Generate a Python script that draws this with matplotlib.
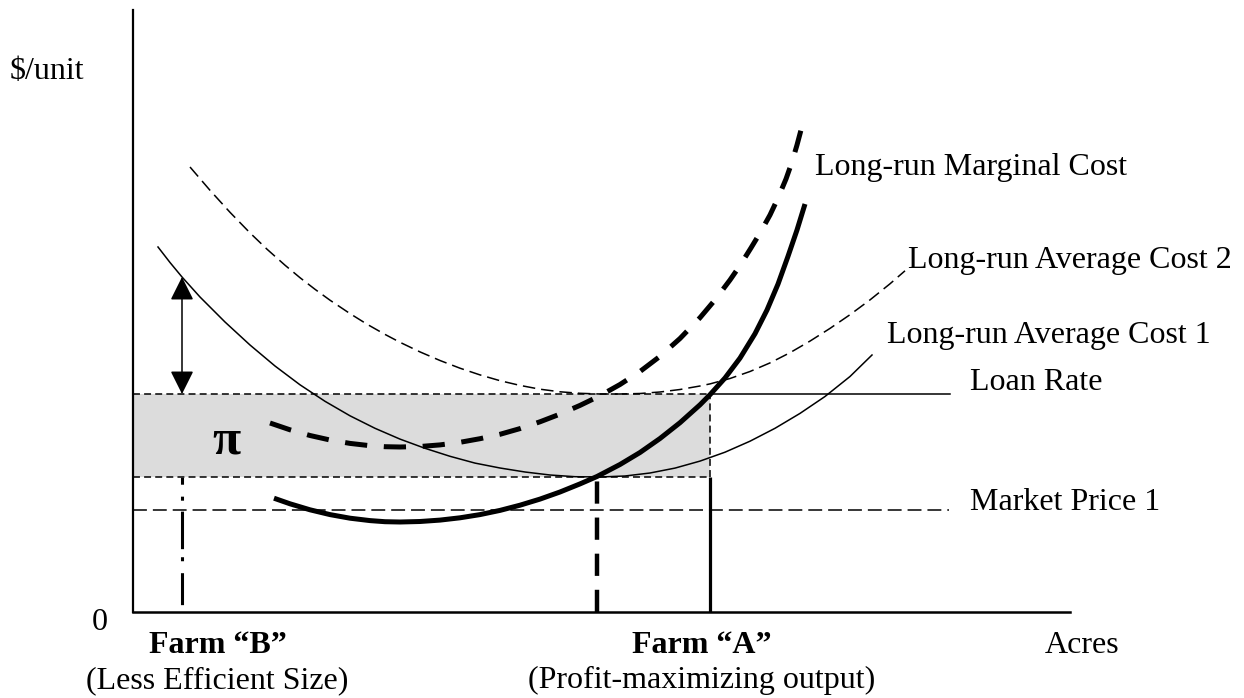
import matplotlib
matplotlib.use("Agg")
import matplotlib.pyplot as plt

plt.rcParams['lines.scale_dashes'] = False
plt.rcParams['font.family'] = ['Liberation Serif', 'DejaVu Serif']

# ---- data (arbitrary units: acres on x, $/unit on y) ----
lrac1_x = [25, 37, 49, 67, 92, 117, 142, 167, 192, 217, 242, 267, 292, 317, 342, 367,
           392, 417, 442, 467, 492, 517, 542, 567, 592, 617, 642, 667, 692, 717, 739]
lrac1_y = [365, 349.5, 335, 315, 290, 267, 246, 227.2, 210.7, 196.2, 183.7, 172.9, 163.7,
           155.7, 148.9, 144, 140, 137, 135.3, 135, 136, 139, 143.9, 150.9, 159.8, 170.8,
           183.7, 198.6, 215.5, 235.5, 257]

lrac2_x = [57, 77, 97, 117, 134, 152, 167, 182, 197, 217, 234, 252, 267, 287, 307, 327,
           347, 367, 387, 407, 427, 447, 467, 487, 507, 527, 547, 567, 577, 597, 617, 637,
           657, 677, 697, 717, 737, 757, 772]
lrac2_y = [445, 421.7, 399.7, 379.1, 362.8, 346.8, 334.3, 322.7, 311.8, 298.4, 287.8,
           277.6, 269.7, 260.1, 251.5, 243.8, 237.1, 231.3, 226.6, 222.8, 220.2, 218.7,
           218, 218, 218.5, 220, 222.5, 226, 228.1, 233.5, 240.5, 249.1, 259.3, 270.9,
           283.6, 297.3, 312.1, 328.2, 341.2]

lrmc_x = [141, 157, 177, 197, 217, 237, 252, 267, 287, 307, 327, 347, 367, 387, 407, 427,
          447, 464, 487, 507, 527, 547, 567, 577, 592, 607, 622, 634, 645, 655, 664, 672]
lrmc_y = [113.8, 108.2, 102.2, 97.4, 93.8, 91.4, 90.3, 90, 90.5, 91.9, 94.2, 97.4, 101.6,
          106.8, 112.9, 120, 128.1, 135.5, 147.5, 159.5, 173.5, 189.3, 207.2, 217.3, 234,
          253.9, 278.3, 302, 327.9, 355.7, 382, 408]

mc2_x = [137, 157, 177, 197, 217, 237, 252, 267, 287, 307, 327, 347, 367, 387, 407, 427,
         447, 467, 487, 507, 527, 547, 567, 582, 597, 607, 618, 627, 637, 645, 653, 659,
         664, 668]
mc2_y = [189, 182.2, 176.5, 172, 168.6, 166.3, 165.3, 165, 165.5, 167.1, 169.7, 173.3,
         177.7, 183.4, 190.2, 197.9, 206.6, 216.3, 227.5, 240.5, 255.7, 273.5, 294.3,
         312.1, 332, 346.5, 364.1, 379, 397, 414, 433, 450, 467, 482]

loan_rate = 218
farm_b_price = 135
market_price = 102
farm_a_x = 577
farm_b_mc_x = 464
farm_b_x = 49
farm_b_cost = 335
loan_rate_end = 817
market_price_end = 816
x_max = 937
y_max = 602

curve_labels = ["Long-run Marginal Cost", "Long-run Average Cost 2",
                "Long-run Average Cost 1", "Loan Rate", "Market Price 1"]

# ---- figure ----
fig = plt.figure(figsize=(12.44, 6.98), dpi=100)
ax = fig.add_axes([133/1244, 86/698, 937/1244, 602/698])
ax.set_xlim(0, x_max)
ax.set_ylim(0, y_max)
for s in ['top', 'right']:
    ax.spines[s].set_visible(False)
ax.spines['left'].set_linewidth(1.6)
ax.spines['bottom'].set_linewidth(1.8)
ax.set_xticks([])
ax.set_yticks([])

thin = 1.1
# shaded profit rectangle
ax.fill_between([0, farm_a_x], farm_b_price, loan_rate, color='#dcdcdc', lw=0, zorder=1)
ax.plot([0, farm_a_x], [loan_rate, loan_rate], color='k', lw=thin, dashes=(5, 3), zorder=2)
ax.plot([0, farm_a_x], [farm_b_price, farm_b_price], color='k', lw=thin, dashes=(5, 3), zorder=2)
ax.plot([farm_a_x, farm_a_x], [farm_b_price, loan_rate], color='k', lw=thin, dashes=(5, 3), zorder=2)
# loan rate solid part
ax.plot([farm_a_x, loan_rate_end], [loan_rate, loan_rate], color='k', lw=thin, zorder=2)
# market price
ax.plot([0, market_price_end], [market_price, market_price], color='k', lw=thin,
        dashes=(10, 4.3), zorder=2)

# verticals
ax.plot([farm_a_x, farm_a_x], [0, farm_b_price], color='k', lw=2.3, solid_capstyle='butt', zorder=3)
ax.plot([farm_b_mc_x, farm_b_mc_x], [0, farm_b_price], color='k', lw=3.2,
        dashes=(16, 10), dash_capstyle='butt', zorder=3)
ax.plot([farm_b_x, farm_b_x], [0, farm_b_price], color='k', lw=2.2,
        linestyle=(91.4, (23, 8.6, 2.9, 5.8, 27, 7.9, 2.9, 8.6, 5, 5)),
        dash_capstyle='butt', zorder=3)

# curves
ax.plot(lrac1_x, lrac1_y, color='k', lw=thin, solid_joinstyle='round', zorder=4)
ax.plot(lrac2_x, lrac2_y, color='k', lw=thin, dashes=(9, 4.3), zorder=4)
ax.plot(lrmc_x, lrmc_y, color='k', lw=3.6, solid_capstyle='butt', solid_joinstyle='round', zorder=5)
ax.plot(mc2_x, mc2_y, color='k', lw=3.6, dashes=(16, 12), dash_capstyle='butt',
        dash_joinstyle='round', zorder=5)

# double arrow
ax.annotate('', xy=(farm_b_x, farm_b_cost), xytext=(farm_b_x, loan_rate),
            arrowprops=dict(arrowstyle='<|-|>', mutation_scale=36, lw=1.1, color='k',
                            shrinkA=0, shrinkB=0), zorder=6)

fs = 23
tk = dict(fontsize=fs, color='k', clip_on=False, va='baseline')
ax.text(-123, 533, "$/unit", ha='left', **tk)
ax.text(-33, -18, "0", ha='center', **tk)
ax.text(84.5, -41, "Farm \u201cB\u201d", ha='center', fontweight='bold', **tk)
ax.text(84.5, -76, "(Less Efficient Size)", ha='center', **tk)
ax.text(569, -41, "Farm \u201cA\u201d", ha='center', fontweight='bold', **tk)
ax.text(569, -76, "(Profit-maximizing output)", ha='center', **tk)
ax.text(912, -41, "Acres", ha='left', **tk)
ax.text(93, 159, "\u03c0", ha='center', fontsize=37, fontweight='bold', color='k', va='baseline')

label_pos = [(682, 437), (775, 344), (754, 269), (837, 222), (837, 102)]
for lab, (lx, ly) in zip(curve_labels, label_pos):
    ax.text(lx, ly, lab, ha='left', **tk)

fig.savefig("out.png", dpi=100)
